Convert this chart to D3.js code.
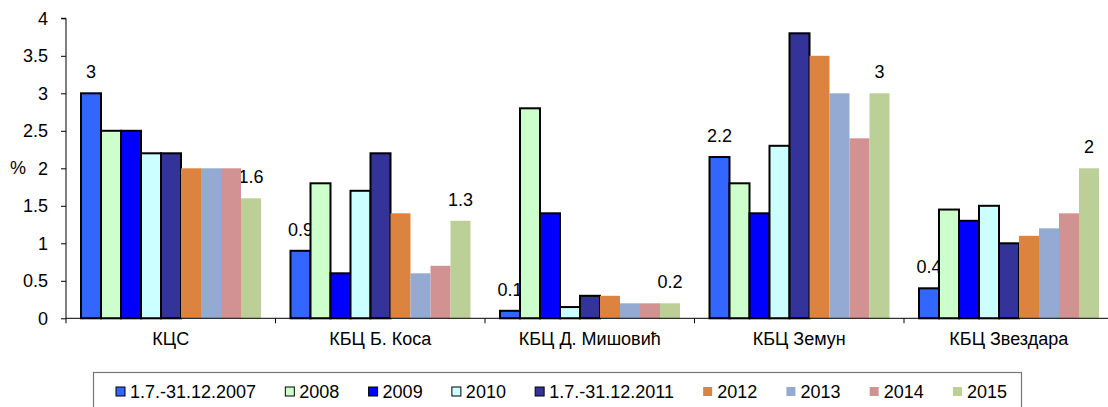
<!DOCTYPE html>
<html>
<head>
<meta charset="utf-8">
<script src="https://cdn.jsdelivr.net/npm/d3@7"></script>
<style>
  body { margin: 0; background: #fff; }
  svg { display: block; font-family: Arial, "Liberation Sans", sans-serif; }
  .axis text { font-size: 18px; fill: #000; }
  .axis line, .axis path { stroke: #000; }
</style>
</head>
<body>
<div id="plot"></div>
<script>
// categories and series
const categories = ['КЦС', 'КБЦ Б. Коса', 'КБЦ Д. Мишовић', 'КБЦ Земун', 'КБЦ Звездара']
const seriesNames = ['1.7.-31.12.2007', '2008', '2009', '2010', '1.7.-31.12.2011', '2012', '2013', '2014', '2015']
// one row per series, one value per category
const v2007 = [3.0, 0.9, 0.1, 2.15, 0.4]
const v2008 = [2.5, 1.8, 2.8, 1.8, 1.45]
const v2009 = [2.5, 0.6, 1.4, 1.4, 1.3]
const v2010 = [2.2, 1.7, 0.15, 2.3, 1.5]
const v2011 = [2.2, 2.2, 0.3, 3.8, 1.0]
const v2012 = [2.0, 1.4, 0.3, 3.5, 1.1]
const v2013 = [2.0, 0.6, 0.2, 3.0, 1.2]
const v2014 = [2.0, 0.7, 0.2, 2.4, 1.4]
const v2015 = [1.6, 1.3, 0.2, 3.0, 2.0]
const yTicks = [0, 0.5, 1, 1.5, 2, 2.5, 3, 3.5, 4]
// labels shown only for first and last series
const labelled = ['1.7.-31.12.2007', '2015']

const values = [v2007, v2008, v2009, v2010, v2011, v2012, v2013, v2014, v2015]
const colors = ['#3366ff', '#ccffcc', '#0000ff', '#ccffff', '#333399', '#dc843f', '#95aad2', '#d39292', '#bbcf97']
const outlined = [true, true, true, true, true, false, false, false, false]

const W = 1108, H = 407
const margin = ({top: 18.3, left: 66, right: -5.5, bottom: 88.7})

const svg = d3.select('#plot').append('svg')
  .attr('width', W)
  .attr('height', H)

const x = d3.scaleBand()
  .domain(categories)
  .range([margin.left, W - margin.right])
const xs = d3.scaleBand()
  .domain(seriesNames)
  .range([15, x.bandwidth() - 14.5])
const y = d3.scaleLinear()
  .domain([0, 4])
  .range([H - margin.bottom, margin.top])

// flat list of bars
const bars = []
seriesNames.forEach((s, i) => {
  categories.forEach((c, j) => {
    bars.push({series: s, cat: c, value: values[i][j], color: colors[i], outline: outlined[i]})
  })
})

// data labels (drawn under the bars, as in the original)
const fmt = v => String(Math.round(v * 10 + 1e-9) / 10)
svg.append('g')
  .selectAll('text')
  .data(bars.filter(d => labelled.includes(d.series)))
  .join('text')
  .attr('x', d => x(d.cat) + xs(d.series) + xs.bandwidth() / 2)
  .attr('y', d => y(d.value) - 15)
  .attr('text-anchor', 'middle')
  .style('font-size', '18px')
  .text(d => fmt(d.value))

// bars
svg.append('g')
  .selectAll('rect')
  .data(bars)
  .join('rect')
  .attr('x', d => x(d.cat) + xs(d.series))
  .attr('y', d => y(d.value))
  .attr('width', xs.bandwidth())
  .attr('height', d => y(0) - y(d.value))
  .attr('fill', d => d.color)
  .attr('stroke', d => d.outline ? '#000' : 'none')
  .attr('stroke-width', 2)

// y axis
svg.append('g')
  .classed('axis', true)
  .attr('transform', `translate(${margin.left},0)`)
  .call(d3.axisLeft(y).tickValues(yTicks).tickSize(5).tickPadding(13).tickFormat(d3.format('')))
  .call(g => g.select('.domain').attr('d', `M-5,${y(4)}H0V${y(0)}`))

svg.append('text')
  .attr('x', 18)
  .attr('y', y(2) + 6)
  .attr('text-anchor', 'middle')
  .style('font-size', '18px')
  .text('%')

// x axis
const xaxis = svg.append('g')
  .classed('axis', true)
  .attr('transform', `translate(0,${y(0)})`)
  .call(d3.axisBottom(x).tickSize(0).tickPadding(14))
  .call(g => g.select('.domain').attr('d', `M${margin.left},0H${W}`))
xaxis.selectAll('.bound')
  .data(categories)
  .join('line')
  .classed('bound', true)
  .attr('x1', d => x(d)).attr('x2', d => x(d))
  .attr('y1', 0).attr('y2', 5)

// legend
const legend = svg.append('g')
legend.append('rect')
  .attr('x', 93.5).attr('y', 372.5)
  .attr('width', 928).attr('height', 60)
  .attr('fill', 'none')
  .attr('stroke', '#777')
  .attr('stroke-width', 1.2)

const items = legend.selectAll('g')
  .data(seriesNames)
  .join('g')
items.append('rect')
  .attr('width', 9).attr('height', 9)
  .attr('y', 387)
  .attr('fill', (d, i) => colors[i])
  .attr('stroke', (d, i) => outlined[i] ? '#000' : 'none')
  .attr('stroke-width', 1)
items.append('text')
  .attr('x', 14)
  .attr('y', 398)
  .style('font-size', '18px')
  .text(d => d)

const widths = items.select('text').nodes().map(n => n.getComputedTextLength() + 14)
const start = 116, end = 1007
const gap = (end - start - d3.sum(widths)) / (widths.length - 1)
let cx = start
items.attr('transform', (d, i) => {
  const t = `translate(${cx},0)`
  cx += widths[i] + gap
  return t
})
</script>
</body>
</html>
